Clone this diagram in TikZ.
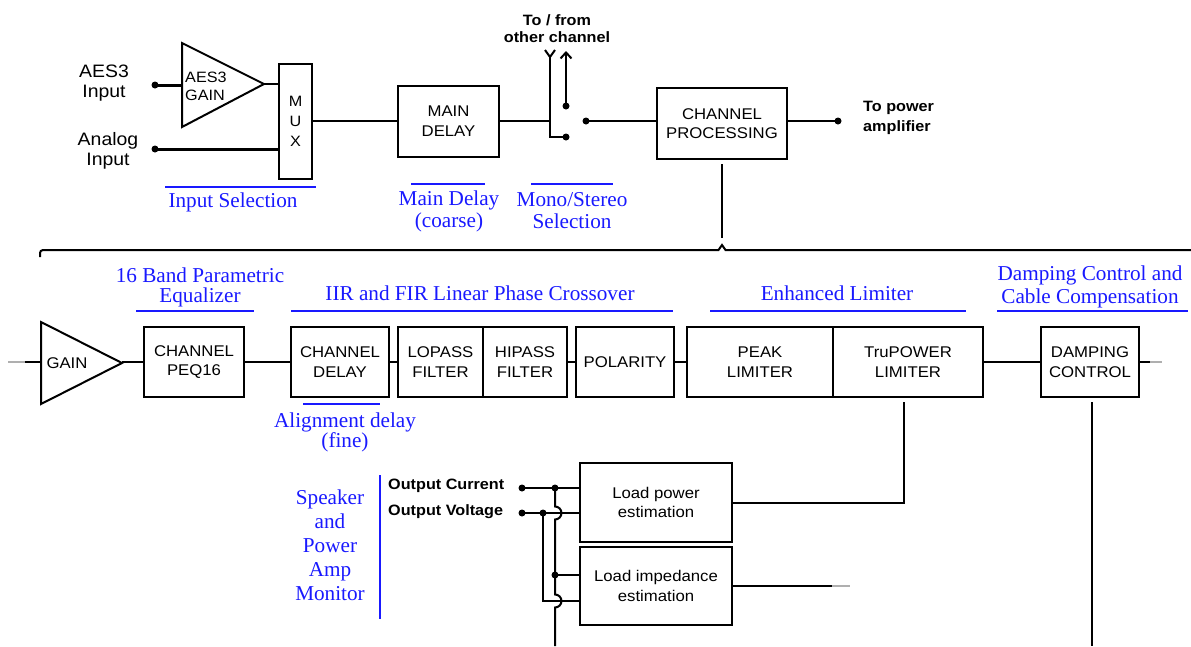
\documentclass[tikz,border=0pt]{standalone}
\usepackage{fontspec}
\setmainfont{Liberation Serif}
\newfontfamily\lsans{Liberation Sans}[FakeStretch=1.08]
\usetikzlibrary{arrows.meta}
\definecolor{lblue}{RGB}{25,25,255}
\definecolor{fadegray}{RGB}{175,175,175}
\begin{document}
\begin{tikzpicture}[x=1pt,y=-1pt,
  box/.style={draw, line width=2pt, align=center, inner sep=0pt, font=\lsans\fontsize{15.5}{19.5}\selectfont},
  wire/.style={line width=2pt},
  thickwire/.style={line width=3pt},
  lbl/.style={font=\lsans\fontsize{18}{20}\selectfont, align=center, inner sep=0pt},
  note/.style={font=\lsans\bfseries\fontsize{15}{17}\selectfont, inner sep=0pt},
  blab/.style={text=lblue, font=\fontsize{21.2}{22}\selectfont, align=center, inner sep=0pt},
  brule/.style={draw=lblue, line width=1.3pt},
  dot/.style={circle, fill, inner sep=0pt, minimum size=7pt},
]
\useasboundingbox (0,0) rectangle (1191,646);

% ---------------- top row ----------------
\node[lbl] (aesin) at (104,83) {AES3\\Input};
\node[lbl] (anain) at (108,151) {Analog\\Input};

\draw[wire] (182,43) -- (264,84) -- (182,127) -- cycle;
\coordinate (aesapex) at (264,84);
\coordinate (aesleft) at (182,85);
\node[font=\lsans\fontsize{15}{18}\selectfont, align=left, anchor=west, inner sep=0pt] (aesgain) at (185,86) {AES3\\GAIN};

\node[box, minimum width=33pt, minimum height=115pt, font=\lsans\fontsize{15}{20}\selectfont] (mux) at (295.5,121) {M\\U\\X};

\node[dot] (aesdot) at (155,85) {};
\node[dot] (anadot) at (155,149) {};
\draw[thickwire] (aesdot.center) -- (aesleft);
\draw[wire] (aesapex) -- (aesapex -| mux.west);
\draw[thickwire] (anadot.center) -- (anadot.center -| mux.west);

\node[box, minimum width=101pt, minimum height=71pt] (maindelay) at (448.5,121) {MAIN\\DELAY};
\draw[wire] (mux.east) -- (maindelay.west);

% switch
\coordinate (swj) at (550,121);
\coordinate (fork) at (550,57);
\coordinate (forkl) at (545,50);
\coordinate (forkr) at (555,50);
\coordinate (swlow) at (550,137);
\node[dot] (swb) at (566,137) {};
\node[dot] (swa) at (566,106) {};
\coordinate (swatop) at (566,51);
\node[dot] (pole) at (586,121) {};
\draw[wire] (maindelay.east) -- (swj) -- (fork);
\draw[wire] (forkl) -- (fork) -- (forkr);
\draw[wire] (swj) -- (swlow) -- (swb.center);
\draw[wire, -{Straight Barb[length=6pt,width=11pt,line width=2pt]}] (swa.center) -- (swatop);
\node[note, align=center, font=\lsans\bfseries\fontsize{15}{17}\selectfont] (tofrom) at (557,29) {To / from\\other channel};

\node[box, minimum width=130pt, minimum height=71pt] (chproc) at (722,123.5) {CHANNEL\\PROCESSING};
\draw[wire] (pole.center) -- (pole.center -| chproc.west);
\node[dot] (outdot) at (838,121) {};
\draw[wire] (outdot.center -| chproc.east) -- (outdot.center);
\node[note, align=left, anchor=west, font=\lsans\bfseries\fontsize{15}{20}\selectfont] (topa) at (863,118) {To power\\amplifier};

% labels top
\node[blab] (insel) at (233,202) {Input Selection};
\draw[brule] (165,187) -- (316,187);
\node[blab] (mdl) at (449,211) {Main Delay\\(coarse)};
\draw[brule] (411,184) -- (485,184);
\node[blab] (msl) at (572,211) {Mono/Stereo\\Selection};
\draw[brule] (531,184) -- (613,184);

% brace
\coordinate (cpv1) at (722,164);
\coordinate (cpv2) at (722,238);
\draw[wire] (cpv1) -- (cpv2);
\draw[wire, rounded corners=3pt] (40,257) -- (40,250) -- (100,250);
\draw[wire] (100,250) -- (718.5,250) -- (722,245) -- (725.5,250) -- (1191,250);

% ---------------- bottom row ----------------
\draw[wire] (41,322) -- (122,363) -- (41,404) -- cycle;
\coordinate (gainapex) at (122,362);
\node[font=\lsans\fontsize{15.5}{18}\selectfont, inner sep=0pt] (gaintxt) at (67,363) {GAIN};
\coordinate (inA) at (8,362);
\coordinate (inB) at (25,362);
\coordinate (inC) at (41,362);
\draw[wire, fadegray] (inA) -- (inB);
\draw[wire] (inB) -- (inC);

\node[box, minimum width=100pt, minimum height=70pt] (peq) at (194,362) {CHANNEL\\PEQ16};
\node[box, minimum width=98pt, minimum height=70pt] (chdelay) at (340,362) {CHANNEL\\DELAY};
\node[box, minimum width=85pt, minimum height=70pt] (lopass) at (440.5,362) {LOPASS\\FILTER};
\node[box, minimum width=84pt, minimum height=70pt] (hipass) at (525,362) {HIPASS\\FILTER};
\node[box, minimum width=98pt, minimum height=70pt] (polarity) at (625,362) {POLARITY};
\node[box, minimum width=146pt, minimum height=70pt] (peak) at (760,362) {PEAK\\LIMITER};
\node[box, minimum width=150pt, minimum height=70pt] (trupower) at (908,362) {TruPOWER\\LIMITER};
\node[box, minimum width=98pt, minimum height=70pt] (damping) at (1090,362) {DAMPING\\CONTROL};

\draw[wire] (gainapex) -- (peq.west);
\draw[wire] (peq.east) -- (chdelay.west);
\draw[wire] (chdelay.east) -- (lopass.west);
\draw[wire] (hipass.east) -- (polarity.west);
\draw[wire] (polarity.east) -- (peak.west);
\draw[wire] (trupower.east) -- (damping.west);
\coordinate (dout1) at (1150,362);
\coordinate (dout2) at (1162,362);
\draw[wire] (damping.east) -- (dout1);
\draw[wire, fadegray] (dout1) -- (dout2);

% blue labels bottom
\node[blab, font=\fontsize{21.2}{20}\selectfont] (peql) at (200,287) {16 Band Parametric\\Equalizer};
\draw[brule] (136,311) -- (254,311);
\node[blab] (xol) at (480,293) {IIR and FIR Linear Phase Crossover};
\draw[brule] (291,311) -- (673,311);
\node[blab] (liml) at (837,293) {Enhanced Limiter};
\draw[brule] (710,311) -- (966,311);
\node[blab, font=\fontsize{21.2}{23}\selectfont] (dmpl) at (1090,286.5) {Damping Control and\\Cable Compensation};
\draw[brule] (997,311) -- (1188,311);
\node[blab, font=\fontsize{21.2}{20}\selectfont] (alil) at (345,432) {Alignment delay\\(fine)};
\draw[brule] (303,404) -- (380,404);

% ---------------- monitor section ----------------
\node[blab, font=\fontsize{21.2}{24}\selectfont] (spk) at (330,545.5) {Speaker\\and\\Power\\Amp\\Monitor};
\draw[brule, line width=1.5pt] (380,475) -- (380,619);
\node[note, anchor=west] (ocur) at (388,486) {Output Current};
\node[note, anchor=west] (ovol) at (388,512) {Output Voltage};

\node[box, minimum width=152pt, minimum height=79pt] (loadpow) at (656,502.5) {Load power\\estimation};
\node[box, minimum width=152pt, minimum height=78pt] (loadimp) at (656,586) {Load impedance\\estimation};

\node[dot] (cur) at (522,488) {};
\node[dot] (vol) at (522,513) {};
\node[dot] (jc) at (555,488) {};
\node[dot] (jv) at (543,513) {};
\node[dot] (jc2) at (555,575) {};
\coordinate (vb) at (543,601);
\coordinate (cbot) at (555,646);

\draw[wire] (cur.center) -- (cur.center -| loadpow.west);
\draw[wire] (vol.center) -- (vol.center -| loadpow.west);
\draw[wire] (jc.center) -- (555,506.5) arc[start angle=-90, end angle=90, radius=6.5]
  -- (jc2.center) -- (555,594.5) arc[start angle=-90, end angle=90, radius=6.5] -- (cbot);
\draw[wire] (jv.center) -- (vb) -- (vb -| loadimp.west);
\draw[wire] (jc2.center) -- (jc2.center -| loadimp.west);

\coordinate (tpv) at (904,402);
\draw[wire] (loadpow.east) -- (loadpow.east -| tpv) -- (tpv);
\coordinate (li1) at (832,586);
\coordinate (li2) at (850,586);
\draw[wire] (loadimp.east) -- (li1);
\draw[wire, fadegray] (li1) -- (li2);

\coordinate (dv1) at (1092,402);
\coordinate (dv2) at (1092,646);
\draw[wire] (dv1) -- (dv2);
\end{tikzpicture}
\end{document}
